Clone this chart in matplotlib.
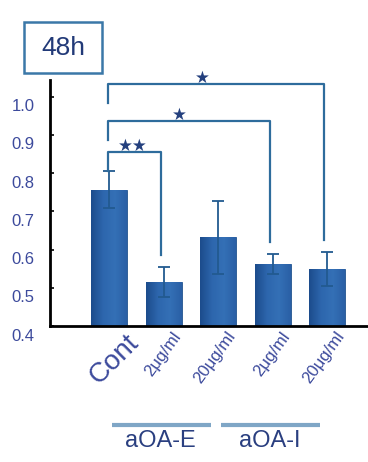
import numpy as np
import matplotlib
matplotlib.use("Agg")
import matplotlib.pyplot as plt
from matplotlib.patches import Rectangle
from matplotlib.colors import LinearSegmentedColormap
from matplotlib.transforms import ScaledTranslation

plt.rcParams['font.family'] = ['Liberation Sans', 'DejaVu Sans']

# data
labels = ["Cont", "2μg/ml", "20μg/ml", "2μg/ml", "20μg/ml"]
means = [0.757, 0.515, 0.632, 0.563, 0.550]
errs = [0.048, 0.040, 0.095, 0.026, 0.045]
yticks = [0.4, 0.5, 0.6, 0.7, 0.8, 0.9, 1.0]
groups = ["aOA-E", "aOA-I"]
group_bars = [(1, 2), (3, 4)]
# comparisons: (bar a, bar b, bracket height, label)
sig = [(0, 1, 0.855, "★★"), (0, 3, 0.937, "★"), (0, 4, 1.034, "★")]

line_col = "#2e6c9c"
txt_col = "#3c4a9c"
grad = LinearSegmentedColormap.from_list("bar", ["#1c4c8c", "#2d66ad", "#3470b6", "#2a60a6"])

fig = plt.figure(figsize=(3.68, 4.62), dpi=100)
ax = fig.add_axes([0.136, 0.294, 0.864, 0.533])

x = np.arange(len(means))
bars = ax.bar(x, means, width=0.66, color="#2b62a8", edgecolor="#23558f",
              linewidth=0.6, zorder=2)
g = np.linspace(0, 1, 64).reshape(1, -1)
for b in bars:
    im = ax.imshow(g, cmap=grad, aspect="auto", zorder=2.5,
                   extent=[b.get_x(), b.get_x() + b.get_width(), 0.4, b.get_height()])
    im.set_clip_path(b)
ax.errorbar(x, means, yerr=errs, fmt="none", ecolor="#225a90", elinewidth=1.3,
            capsize=4, capthick=1.3, zorder=3)

ax.set_xlim(-1.083, 4.75)
ax.set_ylim(0.4, 1.044)
ax.set_yticks(yticks)
ax.set_yticklabels([f"{v:.1f}" for v in yticks], fontsize=12, color=txt_col)
ax.tick_params(axis="y", direction="in", length=3, width=1.2, pad=11)
ax.tick_params(axis="x", length=0)
for lab in ax.get_yticklabels():
    lab.set_transform(lab.get_transform() + ScaledTranslation(0, -6 / 72, fig.dpi_scale_trans))

for s in ["top", "right"]:
    ax.spines[s].set_visible(False)
ax.spines["left"].set_linewidth(2)
ax.spines["bottom"].set_linewidth(2)

ax.set_xticks(x)
ax.set_xticklabels([])
for i, lab in enumerate(labels):
    if lab == "Cont":
        ax.text(i + 0.3, 0.392, lab, rotation=45, ha="right", va="top",
                rotation_mode="anchor", fontsize=20, color=txt_col, clip_on=False)
    else:
        ax.text(i + 0.15, 0.392, lab, rotation=54, ha="right", va="top",
                rotation_mode="anchor", fontsize=12, color=txt_col, clip_on=False)

# significance brackets
for a, b, lvl, mark in sig:
    ya = means[a] + errs[a] if lvl < 0.9 else lvl - 0.05
    yb = means[b] + errs[b] + 0.03
    ax.plot([a - 0.02, a - 0.02, b - 0.05, b - 0.05], [ya, lvl, lvl, yb],
            color=line_col, lw=1.6, clip_on=False, zorder=4)
    ax.text(a + 0.43 * (b - a), lvl - 0.008, mark, ha="center", va="bottom",
            fontsize=12, color="#24407e", clip_on=False, zorder=5,
            family=["DejaVu Sans"])

# group underlines and labels
for name, (g0, g1) in zip(groups, group_bars):
    ax.plot([g0 - 0.95, g1 - 0.13], [0.142, 0.142], color="#7fa6c6", lw=3,
            clip_on=False, solid_capstyle="butt")
    ax.text((g0 + g1) / 2 - 0.55, 0.128, name, ha="center", va="top",
            fontsize=17, color="#2a3f80", clip_on=False)

fig.patches.append(Rectangle((24 / 368, 1 - 73 / 462), 78 / 368, 51 / 462,
                             transform=fig.transFigure, fill=False,
                             ec="#3b78a8", lw=1.8))
fig.text(63 / 368, 1 - 48 / 462, "48h", ha="center", va="center", fontsize=19,
         color="#223a78")

fig.savefig("out.png", dpi=100)
